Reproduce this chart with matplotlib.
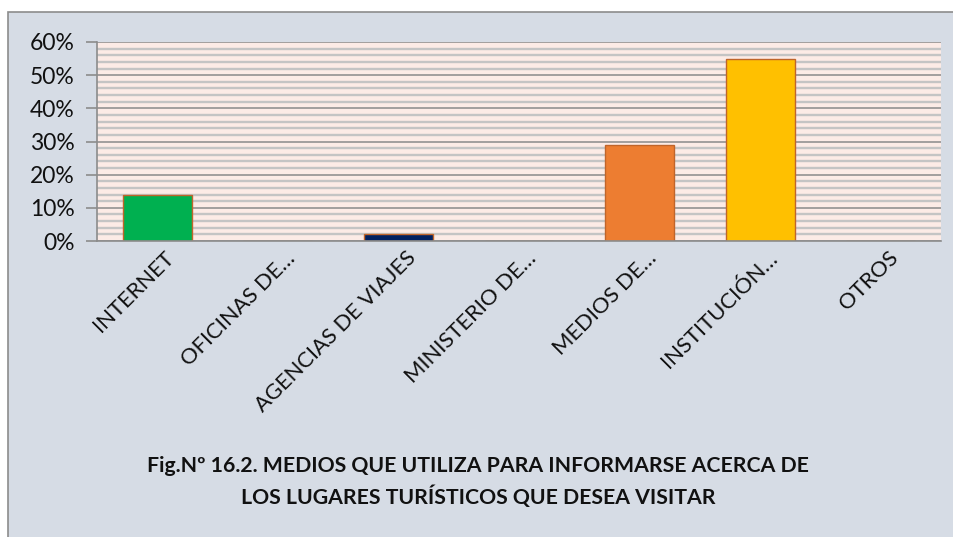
import matplotlib
matplotlib.use("Agg")
import matplotlib.pyplot as plt
from matplotlib.patches import Rectangle
from matplotlib.ticker import MultipleLocator, FuncFormatter
import matplotlib.transforms as mtransforms

categories = ["INTERNET", "OFICINAS DE…", "AGENCIAS DE VIAJES", "MINISTERIO DE…",
              "MEDIOS DE…", "INSTITUCIÓN…", "OTROS"]
values = [0.14, 0.0, 0.02, 0.0, 0.29, 0.55, 0.0]
bar_colors = ["#00B050", "#00B050", "#002060", "#7F7F7F", "#ED7D31", "#FFC000", "#A5A5A5"]
yticks = [0, 0.1, 0.2, 0.3, 0.4, 0.5, 0.6]
title = "Fig.Nº 16.2. MEDIOS QUE UTILIZA PARA INFORMARSE ACERCA DE\nLOS LUGARES TURÍSTICOS QUE DESEA VISITAR"

plt.rcParams['font.family'] = ['Lato', 'DejaVu Sans']

W, H = 954, 537
fig = plt.figure(figsize=(W / 100, H / 100), dpi=100, facecolor="white")
fig.patches.append(Rectangle((8 / W, -0.05), (W + 20) / W, (H - 12) / H + 0.05, transform=fig.transFigure,
                             facecolor="#D6DCE5", edgecolor="#8C8C8C", linewidth=1.2, zorder=-5))

ax = fig.add_axes([97 / W, 1 - 241 / H, (941 - 97) / W, (241 - 42) / H])
ax.set_facecolor("#FCEBE6")

x = list(range(len(categories)))
ax.bar(x, values, width=0.57, color=bar_colors, edgecolor="#C0642A", linewidth=1.0, zorder=3)

ax.set_xlim(-0.5, len(categories) - 0.5)
ax.set_ylim(0, 0.6)
ax.set_yticks(yticks)
ax.yaxis.set_major_formatter(FuncFormatter(lambda v, p: f"{v*100:.0f}%"))
ax.yaxis.set_minor_locator(MultipleLocator(0.02))
ax.grid(axis="y", which="minor", color="#C4C4C4", linewidth=1.7, zorder=1)
ax.grid(axis="y", which="major", color="#8A8A8A", linewidth=1.1, zorder=2)

for s in ["top", "right"]:
    ax.spines[s].set_visible(False)
for s in ["left", "bottom"]:
    ax.spines[s].set_color("#8C8C8C")
    ax.spines[s].set_linewidth(1.2)
    ax.spines[s].set_zorder(4)

ax.tick_params(axis="y", which="major", length=8, color="#8C8C8C", width=1.2,
               labelsize=16.5, pad=8, labelcolor="#111111")
ax.tick_params(axis="y", which="minor", length=0)
ax.tick_params(axis="x", length=0, pad=10, labelsize=15.8, labelcolor="#111111")

ax.set_xticks(x)
ax.set_xticklabels(categories, rotation=45, ha="right", va="center", rotation_mode="anchor")
offset = mtransforms.ScaledTranslation(0.14, 0.0, fig.dpi_scale_trans)
for lab in ax.get_xticklabels():
    lab.set_transform(lab.get_transform() + offset)

fig.text(478 / W, 1 - 482 / H, title, ha="center", va="center", fontsize=15.3,
         fontweight="bold", color="#111111", linespacing=1.5)

fig.savefig("out.png", dpi=100, facecolor="white")
